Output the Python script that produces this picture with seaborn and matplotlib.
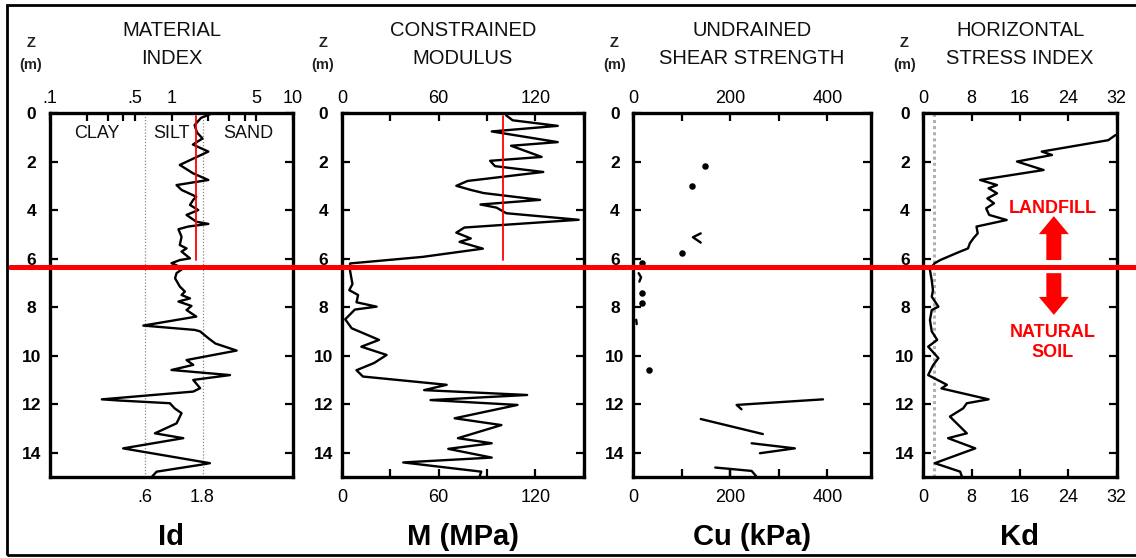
import numpy as np
import pandas as pd
import matplotlib
matplotlib.use("Agg")
import matplotlib.pyplot as plt
import seaborn as sns
from matplotlib.lines import Line2D
from matplotlib.patches import Rectangle, FancyArrowPatch

sns.set_theme(style="white")
plt.rcParams["font.family"] = ["Liberation Sans", "DejaVu Sans"]

# ---------------- data ----------------
id_depth = [0.0, 0.2, 0.5, 0.8, 1.05, 1.3, 1.59, 2.14, 2.49, 2.76, 2.97, 3.17, 3.45, 3.58, 3.79,
            4.0, 4.2, 4.48, 4.57, 4.68, 4.79, 5.1, 5.44, 5.58, 5.71, 5.99, 6.06, 6.19, 6.4, 6.6,
            6.81, 7.15, 7.36, 7.5, 7.64, 7.77, 7.95, 8.12, 8.39, 8.76, 8.94, 9.0, 9.28, 9.5, 9.79,
            10.18, 10.38, 10.59, 10.8, 11.0, 11.34, 11.48, 11.8, 11.85, 11.96, 12.17, 12.37, 12.79,
            13.2, 13.4, 13.82, 14.43, 14.5, 14.78, 14.99]
id_value = [2.2, 1.75, 1.55, 1.62, 1.8, 1.5, 2.01, 1.17, 1.51, 2.01, 1.10, 1.21, 1.6, 1.51, 1.42,
            1.66, 1.33, 1.6, 2.01, 1.37, 1.14, 1.21, 1.17, 1.33, 1.21, 1.42, 1.17, 1.0, 1.25, 1.10,
            1.07, 1.17, 1.29, 1.21, 1.42, 1.14, 1.46, 1.33, 1.6, 0.586, 1.56, 1.72, 2.01, 2.3, 3.44,
            1.33, 1.51, 1.0, 3.03, 1.51, 1.72, 1.51, 0.267, 0.377, 0.97, 1.06, 1.21, 1.10,
            0.73, 1.25, 0.40, 2.07, 1.72, 0.755, 0.69]

m_depth = [0.1, 0.3, 0.53, 0.76, 1.2, 1.35, 1.81, 1.97, 2.19, 2.43, 2.8, 3.0, 3.17, 3.3, 3.58,
           3.77, 3.9, 4.13, 4.4, 4.72, 4.93, 5.17, 5.31, 5.59, 5.93, 6.2, 6.5, 7.05, 7.3, 7.5,
           7.8, 7.98, 8.1, 8.5, 8.87, 9.35, 9.63, 9.97, 10.3, 10.6, 10.86, 11.2, 11.42, 11.62,
           11.83, 12.03, 12.58, 12.86, 13.4, 13.61, 13.84, 14.2, 14.4, 14.78, 14.97]
m_value = [102, 106, 134, 93, 134, 105, 124, 92, 95, 125, 78, 71, 80, 88, 123,
           86, 96, 102, 147, 76, 71, 80, 73, 87.5, 50, 5, 5, 6.5, 4.5, 10,
           9, 21.5, 8, 2, 6, 23, 12, 27.7, 20, 9, 13, 65, 51, 115,
           55, 109, 70, 99, 72, 93, 66, 93, 38, 86.5, 85.5]

cu_dot_depth = [2.18, 3.0, 5.78, 6.19, 7.4, 7.84, 10.59]
cu_dot_value = [148, 121, 100, 18, 18, 18, 31.5]
cu_seg_id = [1, 1, 1, 2, 2, 2, 3, 3, 4, 4, 4, 5, 5, 6, 6, 6, 7, 7, 7, 8, 8]
cu_seg_depth = [4.96, 5.12, 5.34, 6.6, 6.77, 6.95, 8.52, 8.7, 11.8, 12.03, 12.21,
                12.61, 13.23, 13.61, 13.82, 14.02, 14.61, 14.75, 14.96, 14.7, 15.0]
cu_seg_value = [139, 123, 139, 11, 16, 12.5, 6, 7, 391, 213, 223,
                139, 267, 244, 333, 261, 169, 244, 253, 199, 199]

kd_depth = [0.91, 1.12, 1.59, 1.73, 2.0, 2.35, 2.76, 2.97, 3.1, 3.31, 3.52, 3.72, 3.93, 4.2,
            4.41, 4.68, 4.96, 5.16, 5.37, 5.58, 5.71, 6.06, 6.19, 6.33, 6.47, 6.9, 7.31, 7.57,
            7.98, 8.12, 8.53, 9.0, 9.35, 9.63, 10.1, 10.4, 10.8, 11.2, 11.35, 11.8, 11.96,
            12.17, 12.51, 13.2, 13.4, 13.82, 14.43, 14.78, 14.99]
kd_value = [31.8, 30.6, 19.6, 21.3, 15.5, 19.9, 9.4, 12.2, 10.8, 12.2, 10.6, 11.7, 10.4, 10.9,
            13.8, 8.8, 9.0, 8.3, 7.7, 7.4, 6.1, 2.8, 1.9, 1.4, 1.1, 1.4, 1.6, 1.4,
            2.5, 1.4, 1.1, 1.4, 2.3, 0.8, 2.5, 1.6, 0.8, 3.9, 3.0, 10.8, 7.2,
            6.6, 4.4, 7.2, 4.1, 8.6, 1.9, 6.1, 6.4]

titles = ["MATERIAL\nINDEX", "CONSTRAINED\nMODULUS", "UNDRAINED\nSHEAR STRENGTH",
          "HORIZONTAL\nSTRESS INDEX"]
xlabels = ["Id", "M (MPa)", "Cu (kPa)", "Kd"]
depth_ticks = [0, 2, 4, 6, 8, 10, 12, 14]
id_top_ticks = [0.1, 0.2, 0.3, 0.4, 0.5, 1, 2, 3, 4, 5, 10]
id_top_labels = [".1", "", "", "", ".5", "1", "", "", "", "5", "10"]
id_bottom_ticks = [0.6, 1.8]
id_bottom_labels = [".6", "1.8"]
m_ticks = [0, 30, 60, 90, 120, 150]
m_labels = ["0", "", "60", "", "120", ""]
cu_ticks = [0, 100, 200, 300, 400]
cu_labels = ["0", "", "200", "", "400"]
kd_ticks = [0, 8, 16, 24, 32]
kd_labels = ["0", "8", "16", "24", "32"]
id_thresholds = [0.6, 1.8]
kd_threshold = 1.8
boundary_depth = 6.33
id_mean, m_mean = 1.6, 100
mean_top, mean_bottom = 0.12, 6.05

# ---------------- layout ----------------
W, H = 1136, 558
fig = plt.figure(figsize=(W / 100, H / 100), dpi=100)
fig.patch.set_facecolor("white")
TOP, BOT = 113, 477


def box(l, r):
    return [l / W, 1 - BOT / H, (r - l) / W, (BOT - TOP) / H]


lefts = [50, 342, 633.3, 923.3]
rights = [293, 583.5, 871, 1116.7]
axes = [fig.add_axes(box(l, r)) for l, r in zip(lefts, rights)]
ax1, ax2, ax3, ax4 = axes

ax1.set_xscale("log")
ax1.set_xlim(0.1, 10)
ax2.set_xlim(0, 150)
ax3.set_xlim(0, 490)
ax4.set_xlim(0, 32)

LW = 1.7
sns.lineplot(x=id_value, y=id_depth, sort=False, estimator=None, color="black", lw=LW, ax=ax1)
sns.lineplot(x=m_value, y=m_depth, sort=False, estimator=None, color="black", lw=LW, ax=ax2)
cu_df = pd.DataFrame({"seg": cu_seg_id, "depth": cu_seg_depth, "cu": cu_seg_value})
sns.lineplot(data=cu_df, x="cu", y="depth", units="seg", sort=False, estimator=None,
             color="black", lw=LW, ax=ax3)
sns.scatterplot(x=cu_dot_value, y=cu_dot_depth, color="black", s=22, linewidth=0, ax=ax3)
sns.lineplot(x=kd_value, y=kd_depth, sort=False, estimator=None, color="black", lw=LW, ax=ax4)

# reference lines
for v in id_thresholds:
    ax1.axvline(v, color="#888888", ls=(0, (1, 1.5)), lw=0.9, zorder=1)
ax4.axvline(kd_threshold, color="#b0b0b0", ls=(0, (1, 1)), lw=2.2, zorder=1)
ax1.plot([id_mean, id_mean], [mean_top, mean_bottom], color="red", lw=1.3, zorder=3)
ax2.plot([m_mean, m_mean], [mean_top, mean_bottom], color="red", lw=1.3, zorder=3)

# CLAY / SILT / SAND
for txt, xv in [("CLAY", 0.242), ("SILT", 1.0), ("SAND", 4.27)]:
    ax1.text(xv, 0.84, txt, ha="center", va="center", fontsize=13, color="#111111", zorder=4)

# panel 4 annotations
ax4.text(21.4, 3.93, "LANDFILL", ha="center", va="center", fontsize=13, fontweight="bold",
         color="red")
ax4.text(21.4, 9.45, "NATURAL\nSOIL", ha="center", va="center", fontsize=13, fontweight="bold",
         color="red", linespacing=1.25)
for y0, y1 in [(6.06, 4.25), (6.6, 8.32)]:
    arr = FancyArrowPatch((21.6, y0), (21.6, y1),
                          arrowstyle="simple,head_length=1.2,head_width=2.0,tail_width=1.0",
                          mutation_scale=10.8, color="red", shrinkA=0, shrinkB=0, lw=0)
    ax4.add_patch(arr)

# axes styling
tick_sets = [(id_top_ticks, id_top_labels), (m_ticks, m_labels), (cu_ticks, cu_labels),
             (kd_ticks, kd_labels)]
bottom_sets = [(id_bottom_ticks, id_bottom_labels, 0), (m_ticks, m_labels, 6),
               (cu_ticks, cu_labels, 6), (kd_ticks, kd_labels, 6)]

for i, ax in enumerate(axes):
    xl = ax.get_xlim()
    # bottom twin for bottom tick labels
    axb = ax.twiny()
    axb.set_xscale(ax.get_xscale())
    axb.set_xlim(xl)
    axb.xaxis.set_ticks_position("bottom")
    bt, bl, blen = bottom_sets[i]
    axb.set_xticks(bt, bl)
    axb.minorticks_off()
    axb.tick_params(axis="x", which="both", direction="in", length=blen, width=1.6,
                    pad=9.0, labelsize=13, colors="black", bottom=True, top=False,
                    labelbottom=True, labeltop=False)
    for s in axb.spines.values():
        s.set_visible(False)

    ax.set_xlim(xl)
    ax.set_ylim(15, 0)
    ax.set_xlabel("")
    ax.set_ylabel("")
    ax.xaxis.set_ticks_position("top")
    tt, tl = tick_sets[i]
    ax.set_xticks(tt, tl)
    ax.minorticks_off()
    ax.tick_params(axis="x", which="both", direction="in", length=6, width=1.6, pad=4.5,
                   labelsize=13, colors="black", top=True, bottom=False, labeltop=True,
                   labelbottom=False)
    ax.set_yticks(depth_ticks, [str(t) for t in depth_ticks])
    ax.tick_params(axis="y", which="both", direction="in", length=6, width=1.6, pad=13.3,
                   labelsize=12.5, colors="black", left=True, right=True, labelleft=True,
                   labelright=False)
    for lab in ax.get_yticklabels():
        lab.set_horizontalalignment("center")
        lab.set_fontweight("bold")
    for s in ax.spines.values():
        s.set_visible(True)
        s.set_color("black")
        s.set_linewidth(2.4)
    ax.set_facecolor("white")
    ax.grid(False)

    cx = (lefts[i] + rights[i]) / 2 / W
    fig.text(cx, 1 - 44 / H, titles[i], ha="center", va="center", fontsize=14.5,
             linespacing=1.6, color="#111111")
    fig.text(cx, 1 - 537 / H, xlabels[i], ha="center", va="center", fontsize=21,
             fontweight="bold", color="black")
    zx = (lefts[i] - 19) / W
    fig.text(zx, 1 - 43 / H, "Z", ha="center", va="center", fontsize=10.5, fontweight="bold",
             color="#222222")
    fig.text(zx, 1 - 65 / H, "(m)", ha="center", va="center", fontsize=10.5, fontweight="bold",
             color="#222222")

# boundary line across the whole figure
_, yb = fig.transFigure.inverted().transform(ax1.transData.transform((1, boundary_depth)))
fig.add_artist(Line2D([10 / W, 1.0], [yb, yb], transform=fig.transFigure, color="red",
                      lw=3.6, zorder=10))

# outer frame
fig.add_artist(Rectangle((7 / W, 1 - 555 / H), (1160 - 7) / W, (555 - 5) / H,
                         transform=fig.transFigure, fill=False, lw=2.0, ec="black",
                         zorder=11, clip_on=False))

fig.savefig("out.png", dpi=100, facecolor="white")
